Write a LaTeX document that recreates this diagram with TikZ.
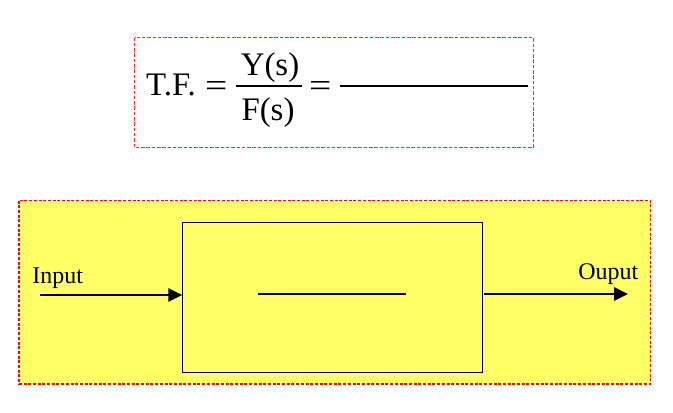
\documentclass[tikz,border=0pt]{standalone}
\usepackage{fontspec}
\setmainfont{Liberation Serif}
\usetikzlibrary{arrows.meta}
\definecolor{topRed}{RGB}{255,40,40}
\definecolor{botRed}{RGB}{235,10,10}
\definecolor{padYellow}{RGB}{255,255,102}
\tikzset{
  frameA/.style={draw=topRed, fill=white, line width=1.6bp, dash pattern=on 3.5bp off 1.8bp},
  frameB/.style={draw=botRed, line width=1.4bp, dash pattern=on 3bp off 1.7bp},
  bigtxt/.style={inner sep=0pt, font=\fontsize{33}{39}\selectfont},
  lbl/.style={inner sep=0pt, font=\fontsize{24}{29}\selectfont},
  thinline/.style={line width=1.3bp},
  flow/.style={line width=2.8bp, -{Triangle[length=14bp,width=13bp]}},
}
\newcommand{\wideeq}{\scalebox{1.2}[1]{=}}
\begin{document}
\begin{tikzpicture}[x=1bp,y=-1bp]
\useasboundingbox (0,0) rectangle (673,412);
% top frame
\draw[frameA] (134.5,37.5) rectangle (533.5,147.5);
\node[bigtxt, anchor=base west] (tf) at (146,95) {T.F.};
\node[bigtxt, anchor=base west] (eqA) at (205,96) {\wideeq};
\node[bigtxt, anchor=base] (num) at (270,75) {Y(s)};
\node[bigtxt, anchor=base] (den) at (268,120) {F(s)};
\coordinate (barL) at (235.7,86);
\coordinate (barR) at (301.7,86);
\draw[thinline] (barL) -- (barR);
\node[bigtxt, anchor=base west] (eqB) at (309,96) {\wideeq};
\coordinate (blankL) at (340,86);
\coordinate (blankR) at (528,86);
\draw[thinline] (blankL) -- (blankR);
% bottom panel
\draw[frameB, fill=padYellow] (19,200.5) rectangle (650.5,384);
\draw[line width=1.2bp, fill=padYellow] (182.3,222.3) rectangle (482.3,372.7);
\coordinate (boxW) at (182.3,295);
\coordinate (boxE) at (484,294);
\coordinate (midL) at (258.3,294);
\coordinate (midR) at (405.7,294);
\draw[thinline] (midL) -- (midR);
\coordinate (inStart) at (40,295);
\coordinate (outEnd) at (628,294);
\draw[flow] (inStart) -- (boxW);
\draw[flow] (boxE) -- (outEnd);
\node[lbl, anchor=base west] (inlbl) at (32.3,283.3) {Input};
\node[lbl, anchor=base west] (outlbl) at (578.2,279) {Ouput};
\end{tikzpicture}
\end{document}
